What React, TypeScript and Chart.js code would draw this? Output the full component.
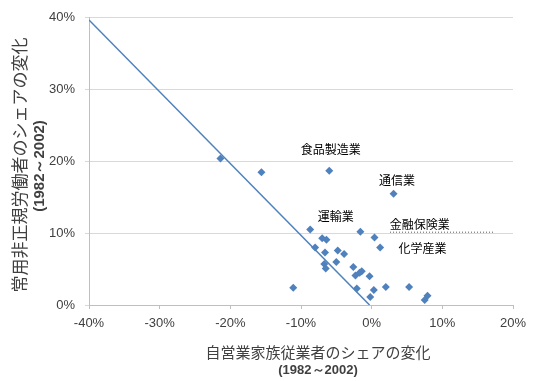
import React, { useEffect, useRef } from "react";
import { Chart, registerables } from "chart.js";

Chart.register(...registerables);

// Industry points: change in self-employed/family worker share (x, %) vs change in non-regular worker share (y, %)
const pointsX = [-21.4, -15.6, -6.0, 3.1, -8.7, -7.0, -6.4, -8.0, -6.6, -4.8, -3.9, -6.7, -6.5, -5.0, -1.6, 0.4, 1.2, -2.6, -1.4, -1.7, -2.3, -0.3, -11.1, -2.1, 0.3, -0.2, 2.0, 5.3, 7.9, 7.5];
const pointsY = [20.4, 18.5, 18.7, 15.5, 10.5, 9.3, 9.1, 8.0, 7.3, 7.6, 7.1, 5.7, 5.1, 6.0, 10.2, 9.4, 8.0, 5.3, 4.7, 4.5, 4.1, 4.0, 2.4, 2.3, 2.1, 1.1, 2.5, 2.5, 1.3, 0.7];

// Reference line (y = -x)
const lineX = [-40, -0.3];
const lineY = [39.7, 0];

const xTicks = [-40, -30, -20, -10, 0, 10, 20];
const yTicks = [0, 10, 20, 30, 40];

const labelTexts = ["食品製造業", "通信業", "運輸業", "金融保険業", "化学産業"];
const labelX = [-5.8, 3.6, -5.1, 6.8, 7.2];
const labelY = [21.6, 17.3, 12.3, 11.2, 7.9];

const xTitle = "自営業家族従業者のシェアの変化";
const yTitle = "常用非正規労働者のシェアの変化";
const periodTitle = "(1982～2002)";

const BLUE = "#4F81BD";
const TEXT = "#404040";
const JP = '"Noto Sans CJK JP", "Noto Sans", sans-serif';
const LAT = '"Liberation Sans", Arial, sans-serif';

export default function App() {
  const ref = useRef<HTMLCanvasElement | null>(null);

  useEffect(() => {
    if (!ref.current) return;
    const overlay = {
      id: "overlay",
      afterDraw(chart: any) {
        const ctx = chart.ctx as CanvasRenderingContext2D;
        const xs = chart.scales.x;
        const ys = chart.scales.y;
        ctx.save();
        // annotation labels
        ctx.fillStyle = "#000000";
        ctx.font = `12px ${JP}`;
        ctx.textAlign = "center";
        ctx.textBaseline = "middle";
        labelTexts.forEach((t, i) => {
          ctx.fillText(t, xs.getPixelForValue(labelX[i]), ys.getPixelForValue(labelY[i]));
        });
        // dotted underline near 金融保険業
        ctx.strokeStyle = "#555555";
        ctx.lineWidth = 1;
        ctx.setLineDash([1, 2]);
        const gy = ys.getPixelForValue(10) - 1;
        ctx.beginPath();
        ctx.moveTo(xs.getPixelForValue(2.6), gy);
        ctx.lineTo(xs.getPixelForValue(17.2), gy);
        ctx.stroke();
        ctx.setLineDash([]);

        // x axis title
        ctx.fillStyle = TEXT;
        ctx.font = `15px ${JP}`;
        ctx.fillText(xTitle, 318, 352);
        ctx.font = `bold 13px ${LAT}`;
        ctx.fillText(periodTitle, 318, 370);

        // y axis title
        ctx.translate(0, 0);
        ctx.save();
        ctx.translate(20, 165);
        ctx.rotate(-Math.PI / 2);
        ctx.font = `17px ${JP}`;
        ctx.fillText(yTitle, 0, 0);
        ctx.restore();
        ctx.save();
        ctx.translate(40, 166);
        ctx.rotate(-Math.PI / 2);
        ctx.font = `bold 15px ${LAT}`;
        ctx.fillText(periodTitle, 0, 0);
        ctx.restore();
        ctx.restore();
      },
    };

    const chart = new Chart(ref.current, {
      type: "scatter",
      data: {
        datasets: [
          {
            label: "産業",
            data: pointsX.map((x, i) => ({ x, y: pointsY[i] })),
            pointStyle: "rectRot",
            pointRadius: 4,
            backgroundColor: BLUE,
            borderColor: BLUE,
            borderWidth: 0,
            order: 1,
          },
          {
            label: "line",
            type: "line",
            data: lineX.map((x, i) => ({ x, y: lineY[i] })),
            showLine: true,
            borderColor: BLUE,
            borderWidth: 1.5,
            pointRadius: 0,
            fill: false,
            order: 2,
          } as any,
        ],
      },
      options: {
        responsive: false,
        animation: false,
        layout: { padding: { top: 15, right: 22, left: 0, bottom: 0 } },
        plugins: { legend: { display: false }, tooltip: { enabled: false } },
        scales: {
          x: {
            type: "linear",
            min: -40,
            max: 20,
            afterBuildTicks: (s: any) => {
              s.ticks = xTicks.map((v) => ({ value: v }));
            },
            afterFit: (s: any) => {
              s.height = 76;
            },
            grid: { drawOnChartArea: false, drawTicks: true, tickLength: 4, color: "#BFBFBF" },
            border: { display: true, color: "#BFBFBF" },
            ticks: {
              padding: 7,
              color: TEXT,
              font: { family: LAT, size: 13 },
              callback: (v: any) => `${v}%`,
            },
          },
          y: {
            type: "linear",
            min: 0,
            max: 40,
            afterBuildTicks: (s: any) => {
              s.ticks = yTicks.map((v) => ({ value: v }));
            },
            afterFit: (s: any) => {
              s.width = 89;
            },
            grid: { drawOnChartArea: true, drawTicks: true, tickLength: 4, color: "#D9D9D9" },
            border: { display: true, color: "#BFBFBF" },
            ticks: {
              padding: 10,
              color: TEXT,
              font: { family: LAT, size: 13 },
              callback: (v: any) => `${v}%`,
            },
          },
        },
      },
      plugins: [overlay],
    } as any);
    return () => chart.destroy();
  }, []);

  return (
    <div style={{ position: "fixed", left: 0, top: 0, width: 535, height: 381, background: "#fff" }}>
      <canvas ref={ref} width={535} height={381} />
    </div>
  );
}
